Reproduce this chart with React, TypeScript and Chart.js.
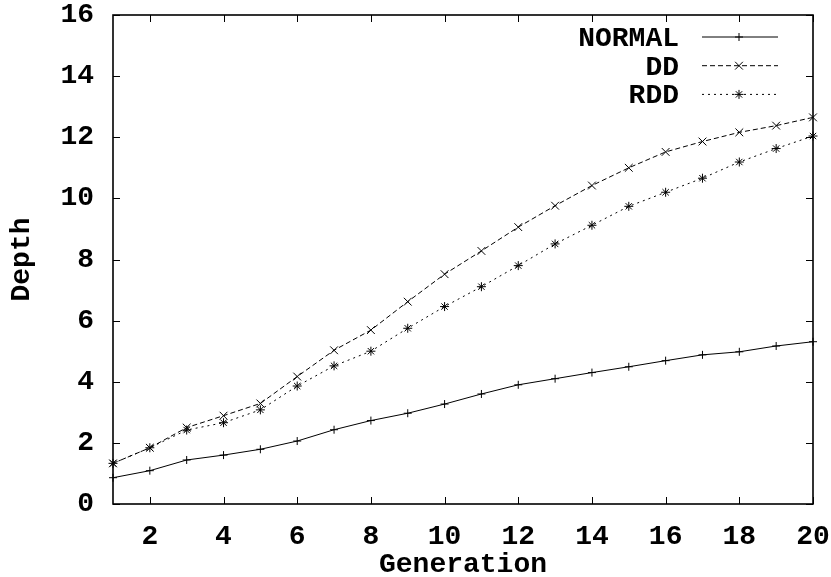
import React, { useEffect, useRef } from "react";
import { Chart, registerables } from "chart.js";

Chart.register(...registerables);

const generations = [1, 2, 3, 4, 5, 6, 7, 8, 9, 10, 11, 12, 13, 14, 15, 16, 17, 18, 19, 20];
const normalDepth = [0.86, 1.09, 1.44, 1.6, 1.79, 2.06, 2.43, 2.73, 2.97, 3.27, 3.6, 3.9, 4.1, 4.3, 4.49, 4.69, 4.88, 4.98, 5.17, 5.31];
const ddDepth = [1.33, 1.84, 2.5, 2.89, 3.29, 4.17, 5.03, 5.69, 6.62, 7.52, 8.28, 9.06, 9.76, 10.42, 11.0, 11.52, 11.86, 12.16, 12.38, 12.65];
const rddDepth = [1.33, 1.84, 2.42, 2.66, 3.08, 3.86, 4.52, 5.0, 5.75, 6.46, 7.11, 7.8, 8.51, 9.12, 9.74, 10.2, 10.66, 11.19, 11.63, 12.04];
const seriesLabels = ["NORMAL", "DD", "RDD"];
const xTickValues = [2, 4, 6, 8, 10, 12, 14, 16, 18, 20];
const yTickValues = [0, 2, 4, 6, 8, 10, 12, 14, 16];
const xTitle = "Generation";
const yTitle = "Depth";

const FONT = "'Liberation Mono', 'Courier New', monospace";
const FS = 28;

function drawMarker(ctx: CanvasRenderingContext2D, style: string, x: number, y: number, r: number) {
  ctx.beginPath();
  if (style === "cross" || style === "star") {
    ctx.moveTo(x - r, y);
    ctx.lineTo(x + r, y);
    ctx.moveTo(x, y - r);
    ctx.lineTo(x, y + r);
  }
  if (style === "crossRot" || style === "star") {
    const d = r * Math.SQRT1_2;
    ctx.moveTo(x - d, y - d);
    ctx.lineTo(x + d, y + d);
    ctx.moveTo(x - d, y + d);
    ctx.lineTo(x + d, y - d);
  }
  ctx.stroke();
}

const framePlugin = {
  id: "gnuplotFrame",
  afterDatasetsDraw(chart: any) {
    const { ctx, chartArea: a, scales } = chart;
    const xs = scales.x;
    const ys = scales.y;
    ctx.save();
    ctx.strokeStyle = "#000";
    ctx.lineWidth = 1;
    ctx.setLineDash([]);
    const tl = 7;
    ctx.beginPath();
    xTickValues.forEach((v) => {
      const px = Math.round(xs.getPixelForValue(v)) + 0.5;
      ctx.moveTo(px, a.bottom);
      ctx.lineTo(px, a.bottom - tl);
      ctx.moveTo(px, a.top);
      ctx.lineTo(px, a.top + tl);
    });
    yTickValues.forEach((v) => {
      const py = Math.round(ys.getPixelForValue(v)) + 0.5;
      ctx.moveTo(a.left, py);
      ctx.lineTo(a.left + tl, py);
      ctx.moveTo(a.right, py);
      ctx.lineTo(a.right - tl, py);
    });
    ctx.stroke();
    ctx.lineWidth = 1.6;
    ctx.strokeRect(a.left, a.top, a.right - a.left, a.bottom - a.top);

    // legend
    ctx.font = `bold ${FS}px ${FONT}`;
    ctx.fillStyle = "#000";
    ctx.textAlign = "right";
    ctx.textBaseline = "middle";
    chart.data.datasets.forEach((ds: any, i: number) => {
      const rowY = a.top + 22 + i * 28.7;
      ctx.fillText(ds.label, a.right - 134, rowY + 2);
      ctx.lineWidth = 1;
      ctx.setLineDash(ds.borderDash || []);
      ctx.beginPath();
      ctx.moveTo(a.right - 111, rowY);
      ctx.lineTo(a.right - 35, rowY);
      ctx.stroke();
      ctx.setLineDash([]);
      drawMarker(ctx, ds.pointStyle, a.right - 74, rowY, ds.pointRadius);
    });
    ctx.restore();
  },
};

export default function App() {
  const ref = useRef<HTMLCanvasElement | null>(null);
  useEffect(() => {
    document.body.style.margin = "0";
    const canvas = ref.current!;
    const chart = new Chart(canvas, {
      type: "line",
      data: {
        labels: generations,
        datasets: [
          {
            label: seriesLabels[0],
            data: generations.map((g, i) => ({ x: g, y: normalDepth[i] })),
            borderColor: "#000",
            backgroundColor: "#000",
            borderWidth: 1,
            pointStyle: "cross",
            pointRadius: 4,
            pointBorderWidth: 1,
            pointBorderColor: "#000",
            fill: false,
            tension: 0,
            clip: false,
          } as any,
          {
            label: seriesLabels[1],
            data: generations.map((g, i) => ({ x: g, y: ddDepth[i] })),
            borderColor: "#000",
            backgroundColor: "#000",
            borderWidth: 1,
            borderDash: [5, 3],
            pointStyle: "crossRot",
            pointRadius: 5.5,
            pointBorderWidth: 1,
            pointBorderColor: "#000",
            fill: false,
            tension: 0,
            clip: false,
          } as any,
          {
            label: seriesLabels[2],
            data: generations.map((g, i) => ({ x: g, y: rddDepth[i] })),
            borderColor: "#000",
            backgroundColor: "#000",
            borderWidth: 1,
            borderDash: [2, 4],
            pointStyle: "star",
            pointRadius: 4.5,
            pointBorderWidth: 1,
            pointBorderColor: "#000",
            fill: false,
            tension: 0,
            clip: false,
          } as any,
        ],
      },
      options: {
        animation: false,
        responsive: false,
        maintainAspectRatio: false,
        layout: { padding: { top: 15, right: 18, left: 0, bottom: 0 } },
        plugins: {
          legend: { display: false },
          tooltip: { enabled: false },
        },
        scales: {
          x: {
            type: "linear",
            min: 1,
            max: 20,
            grid: { display: false, drawTicks: false },
            border: { display: false },
            afterBuildTicks: (s: any) => {
              s.ticks = xTickValues.map((v) => ({ value: v }));
            },
            afterFit: (s: any) => {
              s.height = 73;
              s.paddingLeft = 0;
              s.paddingRight = 0;
            },
            ticks: {
              autoSkip: false,
              maxRotation: 0,
              color: "#000",
              padding: 16,
              font: { family: FONT, size: FS, weight: "bold", lineHeight: 1.2 },
            },
            title: {
              display: true,
              text: xTitle,
              color: "#000",
              padding: { top: 0, bottom: 0 },
              font: { family: FONT, size: FS, weight: "bold", lineHeight: 0.88 },
            },
          },
          y: {
            type: "linear",
            min: 0,
            max: 16,
            grid: { display: false, drawTicks: false },
            border: { display: false },
            afterBuildTicks: (s: any) => {
              s.ticks = yTickValues.map((v) => ({ value: v }));
            },
            afterFit: (s: any) => {
              s.width = 113;
              s.paddingTop = 0;
              s.paddingBottom = 0;
            },
            ticks: {
              color: "#000",
              padding: 19,
              font: { family: FONT, size: FS, weight: "bold", lineHeight: 1.2 },
            },
            title: {
              display: true,
              text: yTitle,
              color: "#000",
              padding: { top: 8, bottom: 0 },
              font: { family: FONT, size: FS, weight: "bold", lineHeight: 1 },
            },
          },
        },
      } as any,
      plugins: [framePlugin],
    });
    return () => chart.destroy();
  }, []);
  return (
    <div style={{ position: "absolute", left: 0, top: 0, width: 831, height: 577 }}>
      <canvas ref={ref} width={831} height={577} style={{ display: "block", width: 831, height: 577 }} />
    </div>
  );
}
